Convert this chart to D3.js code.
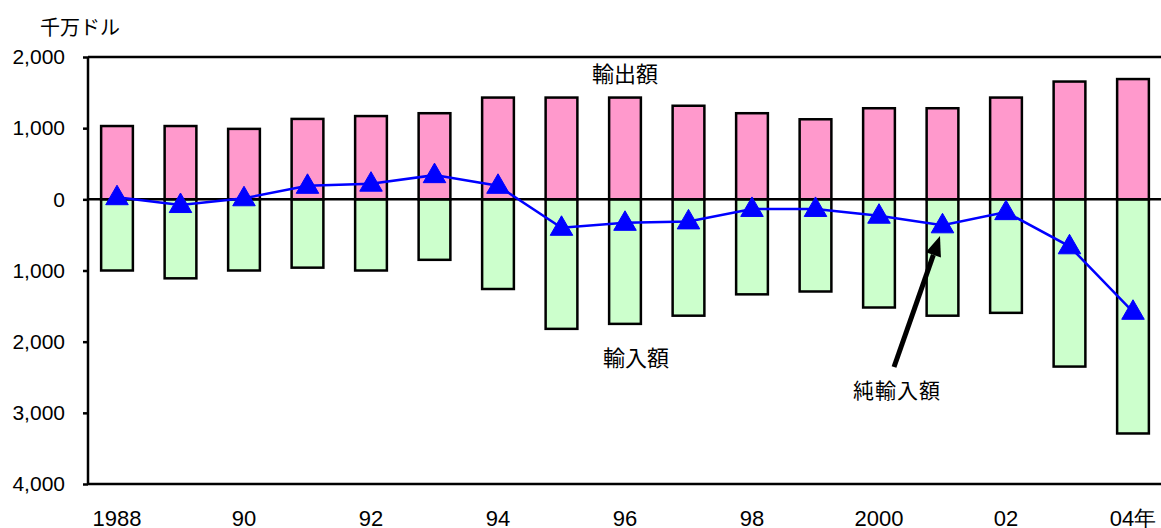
<!DOCTYPE html>
<html><head><meta charset="utf-8">
<script src="https://cdn.jsdelivr.net/npm/d3@7"></script>
<style>body{margin:0;background:#fff}svg{display:block}</style>
</head><body>
<svg id="c" width="1161" height="528"></svg>
<script>
const years = [1988,1989,1990,1991,1992,1993,1994,1995,1996,1997,1998,1999,2000,2001,2002,2003,2004];
const yearLabels = ["1988","","90","","92","","94","","96","","98","","2000","","02","","04年"];
const exportsVal = [1030,1030,990,1130,1170,1210,1430,1430,1430,1315,1210,1125,1280,1280,1430,1655,1690];
const importsVal = [1000,1110,1000,960,1000,850,1260,1820,1750,1635,1335,1295,1520,1635,1595,2350,3290];
const netVal = [30,-80,15,190,220,340,190,-400,-330,-310,-135,-135,-230,-365,-180,-660,-1580];
const yTicks = [2000,1000,0,-1000,-2000,-3000,-4000];

const svg = d3.select("#c");
const L = 88, T = 57, B = 484, R = 1161;
const x = d3.scaleBand().domain(years).range([85.25, 85.25 + 17*63.5]).paddingInner(0.5).paddingOuter(0.25);
const y = d3.scaleLinear().domain([-4000, 2000]).range([B, T]);
const numFont = "'Liberation Sans', Arial, sans-serif";
const jpFont = "'Noto Sans CJK JP', sans-serif";

// bars
svg.append("g").selectAll("rect").data(years).join("rect")
  .attr("x", d => x(d)).attr("width", x.bandwidth())
  .attr("y", (d,i) => y(exportsVal[i])).attr("height", (d,i) => y(0) - y(exportsVal[i]))
  .attr("fill", "#FF99CC").attr("stroke", "#000").attr("stroke-width", 2.5);
svg.append("g").selectAll("rect").data(years).join("rect")
  .attr("x", d => x(d)).attr("width", x.bandwidth())
  .attr("y", y(0)).attr("height", (d,i) => y(-importsVal[i]) - y(0))
  .attr("fill", "#CCFFCC").attr("stroke", "#000").attr("stroke-width", 2.5);

// zero line
svg.append("line").attr("x1", L).attr("x2", R).attr("y1", y(0)).attr("y2", y(0))
  .attr("stroke", "#000").attr("stroke-width", 2.5);

// frame
svg.append("line").attr("x1", L).attr("x2", R).attr("y1", T).attr("y2", T).attr("stroke", "#000").attr("stroke-width", 2.5);
svg.append("line").attr("x1", L).attr("x2", R).attr("y1", B).attr("y2", B).attr("stroke", "#000").attr("stroke-width", 2.5);

// y axis
const yAxis = d3.axisLeft(y).tickValues(yTicks).tickSize(5).tickPadding(18)
  .tickFormat(d => d3.format(",")(Math.abs(d)));
const gy = svg.append("g").attr("transform", `translate(${L},0)`).call(yAxis);
gy.select(".domain").attr("stroke-width", 2.5).attr("d", `M0,${T}V${B}`);
gy.selectAll(".tick line").attr("stroke-width", 2.5);
gy.selectAll(".tick text").attr("font-family", numFont).attr("font-size", 21).attr("fill", "#000");

// x labels
svg.append("g").selectAll("text").data(years).join("text")
  .attr("x", d => x(d) + x.bandwidth()/2).attr("y", 526)
  .attr("text-anchor", "middle").attr("font-family", numFont).attr("font-size", 22)
  .text((d,i) => yearLabels[i]);

// net line
const cx = d => x(d) + x.bandwidth()/2;
svg.append("path").datum(years)
  .attr("d", d3.line().x(d => cx(d)).y((d,i) => y(netVal[i])))
  .attr("fill", "none").attr("stroke", "#0000FF").attr("stroke-width", 2.5);
svg.append("g").selectAll("path").data(years).join("path")
  .attr("transform", (d,i) => `translate(${cx(d)},${y(netVal[i]) + 1})`)
  .attr("d", d3.symbol(d3.symbolTriangle, 220))
  .attr("fill", "#0000FF").attr("stroke", "#0000FF").attr("stroke-width", 1);

// unit label
svg.append("text").attr("x", 40).attr("y", 35).attr("font-family", jpFont).attr("font-size", 20).text("千万ドル");

// annotations
svg.append("text").attr("x", 625).attr("y", 82).attr("text-anchor", "middle").attr("font-family", jpFont).attr("font-size", 22).text("輸出額");
svg.append("text").attr("x", 636).attr("y", 366).attr("text-anchor", "middle").attr("font-family", jpFont).attr("font-size", 22).text("輸入額");
svg.append("text").attr("x", 897).attr("y", 398).attr("text-anchor", "middle").attr("font-family", jpFont).attr("font-size", 21).attr("letter-spacing", 1).text("純輸入額");

// arrow
const ax1 = 894, ay1 = 367, ax2 = 940, ay2 = 236;
const ang = Math.atan2(ay2 - ay1, ax2 - ax1);
const hl = 20, hw = 8;
const bx = ax2 - hl*Math.cos(ang), by = ay2 - hl*Math.sin(ang);
svg.append("line").attr("x1", ax1).attr("y1", ay1).attr("x2", bx).attr("y2", by)
  .attr("stroke", "#000").attr("stroke-width", 5);
svg.append("path").attr("d", `M${ax2},${ay2}L${bx + hw*Math.sin(ang)},${by - hw*Math.cos(ang)}L${bx - hw*Math.sin(ang)},${by + hw*Math.cos(ang)}Z`)
  .attr("fill", "#000");
</script>
</body></html>
